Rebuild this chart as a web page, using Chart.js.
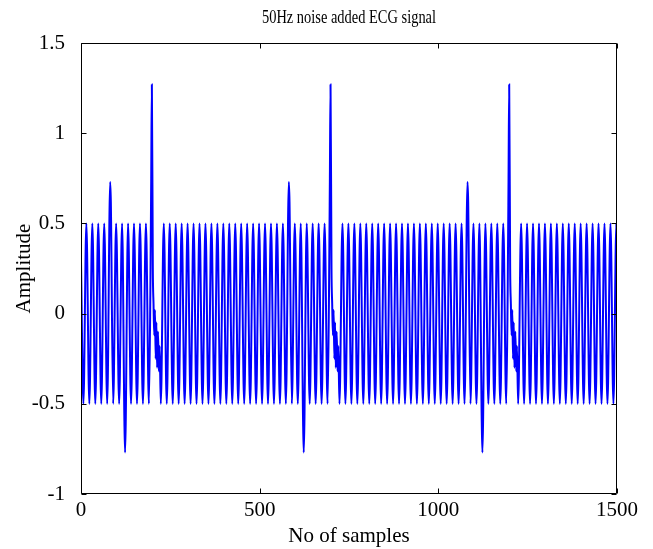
<!DOCTYPE html>
<html>
<head>
<meta charset="utf-8">
<script src="https://cdn.jsdelivr.net/npm/chart.js@4.4.1/dist/chart.umd.min.js"></script>
<style>
  html, body { margin: 0; padding: 0; background: #ffffff; }
  #wrap { width: 653px; height: 549px; }
</style>
</head>
<body>
<div id="wrap"><canvas id="c" width="653" height="549"></canvas></div>
<script>
// ---- data (sample number, amplitude at turning points) ----
const chartTitle = '50Hz noise added ECG signal';
const xAxisTitle = 'No of samples';
const yAxisTitle = 'Amplitude';
const xTickValues = [0, 500, 1000, 1500];
const yTickValues = [-1, -0.5, 0, 0.5, 1, 1.5];

// beat 1 (samples 0 - 500)
const beat1Samples = [0,6.7,15,23.3,31.7,40,48.3,56.7,65,73.3,81.7,83.5,90,98.3,106.7,115,121.5,123.3,131.7,140,
  148.3,156.7,165,173.3,181.7,190,194,196.5,198.3,201,203,205,207,209,211,213,215.5,218,220,223.3,
  231.7,240,248.3,256.7,265,273.3,281.7,290,298.3,306.7,315,323.3,331.7,340,348.3,356.7,365,373.3,381.7,390,
  398.3,406.7,415,423.3,431.7,440,448.3,456.7,465,473.3,481.7,490,498.3];
const beat1Amplitude = [0.29,-0.5,0.5,-0.5,0.5,-0.5,0.5,-0.5,0.5,-0.5,0.73,0.62,-0.5,0.5,-0.5,0.5,-0.6,-0.77,0.5,-0.5,
  0.5,-0.5,0.5,-0.5,0.5,-0.5,0.1,0.75,1.27,0.25,0.05,-0.12,0.02,-0.25,-0.05,-0.3,-0.1,-0.32,-0.18,-0.5,
  0.5,-0.5,0.5,-0.5,0.5,-0.5,0.5,-0.5,0.5,-0.5,0.5,-0.5,0.5,-0.5,0.5,-0.5,0.5,-0.5,0.5,-0.5,
  0.5,-0.5,0.5,-0.5,0.5,-0.5,0.5,-0.5,0.5,-0.5,0.5,-0.5,0.5];

// beat 2 (samples 500 - 1000)
const beat2Samples = [506.7,515,523.3,531.7,540,548.3,556.7,565,573.3,581.7,583.5,590,598.3,606.7,615,621.5,623.3,631.7,640,
  648.3,656.7,665,673.3,681.7,690,694,696.5,698.3,701,703,705,707,709,711,713,715.5,718,720,723.3,
  731.7,740,748.3,756.7,765,773.3,781.7,790,798.3,806.7,815,823.3,831.7,840,848.3,856.7,865,873.3,881.7,890,
  898.3,906.7,915,923.3,931.7,940,948.3,956.7,965,973.3,981.7,990,998.3];
const beat2Amplitude = [-0.5,0.5,-0.5,0.5,-0.5,0.5,-0.5,0.5,-0.5,0.73,0.62,-0.5,0.5,-0.5,0.5,-0.6,-0.77,0.5,-0.5,
  0.5,-0.5,0.5,-0.5,0.5,-0.5,0.1,0.75,1.27,0.25,0.05,-0.12,0.02,-0.25,-0.05,-0.3,-0.1,-0.32,-0.18,-0.5,
  0.5,-0.5,0.5,-0.5,0.5,-0.5,0.5,-0.5,0.5,-0.5,0.5,-0.5,0.5,-0.5,0.5,-0.5,0.5,-0.5,0.5,-0.5,
  0.5,-0.5,0.5,-0.5,0.5,-0.5,0.5,-0.5,0.5,-0.5,0.5,-0.5,0.5];

// beat 3 (samples 1000 - 1500)
const beat3Samples = [1006.7,1015,1023.3,1031.7,1040,1048.3,1056.7,1065,1073.3,1081.7,1083.5,1090,1098.3,1106.7,1115,1121.5,1123.3,1131.7,1140,
  1148.3,1156.7,1165,1173.3,1181.7,1190,1194,1196.5,1198.3,1201,1203,1205,1207,1209,1211,1213,1215.5,1218,1220,1223.3,
  1231.7,1240,1248.3,1256.7,1265,1273.3,1281.7,1290,1298.3,1306.7,1315,1323.3,1331.7,1340,1348.3,1356.7,1365,1373.3,1381.7,1390,
  1398.3,1406.7,1415,1423.3,1431.7,1440,1448.3,1456.7,1465,1473.3,1481.7,1490,1498.3,1500];
const beat3Amplitude = [-0.5,0.5,-0.5,0.5,-0.5,0.5,-0.5,0.5,-0.5,0.73,0.62,-0.5,0.5,-0.5,0.5,-0.6,-0.77,0.5,-0.5,
  0.5,-0.5,0.5,-0.5,0.5,-0.5,0.1,0.75,1.27,0.25,0.05,-0.12,0.02,-0.25,-0.05,-0.3,-0.1,-0.32,-0.18,-0.5,
  0.5,-0.5,0.5,-0.5,0.5,-0.5,0.5,-0.5,0.5,-0.5,0.5,-0.5,0.5,-0.5,0.5,-0.5,0.5,-0.5,0.5,-0.5,
  0.5,-0.5,0.5,-0.5,0.5,-0.5,0.5,-0.5,0.5,-0.5,0.5,-0.5,0.5,-0.05];

// ---- build the point table ----
const allSamples = beat1Samples.concat(beat2Samples, beat3Samples);
const allAmplitude = beat1Amplitude.concat(beat2Amplitude, beat3Amplitude);
const points = allSamples.map((s, i) => ({ x: s, y: allAmplitude[i] }));

const FONT = '"Liberation Serif", "Times New Roman", serif';

// MATLAB-style box with inward ticks, and the title centred over the axes
const boxPlugin = {
  id: 'matlabBox',
  afterDatasetsDraw(chart) {
    const { ctx, chartArea: a, scales } = chart;
    const L = Math.round(a.left) + 0.5, R = Math.round(a.right) - 0.5;
    const T = Math.round(a.top) + 0.5, B = Math.round(a.bottom) - 0.5;
    ctx.save();
    ctx.strokeStyle = '#000000';
    ctx.lineWidth = 1;
    ctx.beginPath();
    ctx.rect(L, T, R - L, B - T);
    const tl = 5;
    xTickValues.forEach(v => {
      const px = Math.round(scales.x.getPixelForValue(v)) + 0.5;
      ctx.moveTo(px, B); ctx.lineTo(px, B - tl);
      ctx.moveTo(px, T); ctx.lineTo(px, T + tl);
    });
    yTickValues.forEach(v => {
      const py = Math.round(scales.y.getPixelForValue(v)) + 0.5;
      ctx.moveTo(L, py); ctx.lineTo(L + tl, py);
      ctx.moveTo(R, py); ctx.lineTo(R - tl, py);
    });
    ctx.stroke();
    // title: condensed serif, centred over the plot box
    ctx.fillStyle = '#000000';
    ctx.font = '19px ' + FONT;
    ctx.textAlign = 'center';
    ctx.textBaseline = 'alphabetic';
    ctx.translate((a.left + a.right) / 2, a.top - 20);
    ctx.scale(0.76, 1);
    ctx.fillText(chartTitle, 0, 0);
    ctx.restore();
  }
};

new Chart(document.getElementById('c'), {
  type: 'scatter',
  data: {
    datasets: [{
      data: points,
      showLine: true,
      borderColor: '#0000ff',
      borderWidth: 2,
      borderJoinStyle: 'miter',
      pointRadius: 0,
      pointHoverRadius: 0,
      cubicInterpolationMode: 'monotone',
      fill: false
    }]
  },
  options: {
    responsive: false,
    animation: false,
    devicePixelRatio: 1,
    layout: { padding: { left: 0, right: 36, top: 43, bottom: 0 } },
    plugins: {
      legend: { display: false },
      tooltip: { enabled: false },
      title: { display: false }
    },
    scales: {
      x: {
        type: 'linear',
        min: 0, max: 1500,
        afterBuildTicks: s => { s.ticks = xTickValues.map(v => ({ value: v })); },
        afterFit: s => { s.height = 55; },
        grid: { display: false },
        border: { display: false },
        ticks: { color: '#000000', font: { family: FONT, size: 21 }, padding: -4, maxRotation: 0,
                 callback: v => String(v) },
        title: { display: true, text: xAxisTitle, color: '#000000', font: { family: FONT, size: 21 }, padding: { top: 0, bottom: 0 } }
      },
      y: {
        type: 'linear',
        min: -1, max: 1.5,
        afterBuildTicks: s => { s.ticks = yTickValues.map(v => ({ value: v })); },
        afterFit: s => { s.width = 81; },
        grid: { display: false },
        border: { display: false },
        ticks: { color: '#000000', font: { family: FONT, size: 21 }, padding: 8,
                 callback: v => String(v) },
        title: { display: true, text: yAxisTitle, color: '#000000', font: { family: FONT, size: 21 }, padding: { top: 12, bottom: 0 } }
      }
    }
  },
  plugins: [boxPlugin]
});
</script>
</body>
</html>
